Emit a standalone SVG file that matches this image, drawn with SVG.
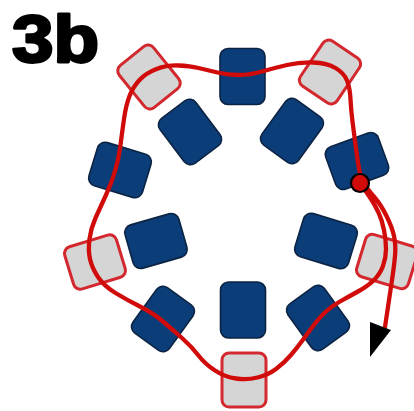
<svg xmlns="http://www.w3.org/2000/svg" width="414" height="411" viewBox="0 0 414 411">
<defs>
<style>
.navy{fill:#0b3d78;stroke:#0c2444;stroke-width:1.6}
.grey{fill:#d5d5d5;stroke:#d3282e;stroke-width:3}
.wire{fill:none;stroke:#d10a0a;stroke-width:4.3;stroke-linecap:round;stroke-linejoin:round}
.title{font-family:"Liberation Sans",Arial,sans-serif;font-weight:bold;font-size:66px;fill:#000;stroke:#000;stroke-width:2.8;stroke-linejoin:round}
</style>
<rect id="nb" x="-22.5" y="-28" width="45" height="56" rx="8" ry="8"/>
<rect id="gb" x="-22" y="-27" width="44" height="54" rx="7" ry="7"/>
</defs>
<rect width="414" height="411" fill="#ffffff"/>
<text class="title" x="12" y="62" textLength="87" lengthAdjust="spacingAndGlyphs">3b</text>
<g id="beads">
<g id="navy1"><use href="#nb" class="navy" transform="translate(242.5,76.5)"/></g>
<g id="navy2"><use href="#nb" class="navy" transform="translate(357,161) rotate(70)"/></g>
<g id="navy3"><use href="#nb" class="navy" transform="translate(318,318) rotate(-36)"/></g>
<g id="navy4"><use href="#nb" class="navy" transform="translate(163,319) rotate(36)"/></g>
<g id="navy5"><use href="#nb" class="navy" transform="translate(120,170) rotate(-73)"/></g>
<g id="navy6"><use href="#nb" class="navy" transform="translate(190,132) rotate(-37)"/></g>
<g id="navy7"><use href="#nb" class="navy" transform="translate(292,131) rotate(36)"/></g>
<g id="navy8"><use href="#nb" class="navy" transform="translate(326,241) rotate(-73)"/></g>
<g id="navy9"><use href="#nb" class="navy" transform="translate(243,310)"/></g>
<g id="navy10"><use href="#nb" class="navy" transform="translate(156,241) rotate(74)"/></g>
<g id="grey1"><use href="#gb" class="grey" transform="translate(149,77) rotate(-39)"/></g>
<g id="grey2"><use href="#gb" class="grey" transform="translate(330,72) rotate(34)"/></g>
<g id="grey3"><use href="#gb" class="grey" transform="translate(387,261.5) rotate(-73)"/></g>
<g id="grey4"><use href="#gb" class="grey" transform="translate(244,380)"/></g>
<g id="grey5"><use href="#gb" class="grey" transform="translate(95,262) rotate(73)"/></g>
</g>
<g id="connectors">
<path class="wire" d="M360,183 L363.5,188 Q367,193 371,199 Q375,205 378.5,212.5 Q382,220 384,230 Q386,240 386,249 Q386,258 383,266 Q380,274 374,280 Q368,286 358,291.5 Q348,297 340,301.5 Q332,306 326,311.5 Q320,317 315,323.5 Q310,330 303.5,339 Q297,348 290.5,355.5 Q284,363 276,369 Q268,375 257.5,377.5 Q247,380 236,378.5 Q225,377 215,370.5 Q205,364 198.5,355.5 Q192,347 182.5,338.5 Q173,330 163,321.5 Q153,313 140,306.5 Q127,300 115.5,293 Q104,286 98,277 Q92,268 90,259 Q88,250 89.5,239 Q91,228 95.5,218 Q100,208 106,195 Q112,182 115.5,169.5 Q119,157 120.5,145 Q122,133 124,119 Q126,105 129.5,96 Q133,87 139.5,80 Q146,73 156.5,69 Q167,65 178.5,65.5 Q190,66 198.5,68 Q207,70 217.5,72.5 Q228,75 239,75 Q250,75 262,71.5 Q274,68 287,65 Q300,62 313.5,62.5 Q327,63 335.5,68 Q344,73 347,80.5 Q350,88 350.5,99 Q351,110 352.5,121.5 Q354,133 355.5,145 Q357,157 359,168.5 Q361,180 365.5,186 Q370,192 375.5,198.5 Q381,205 386.5,216 Q392,227 394,236 Q396,245 395,256 Q394,267 391.5,283.5 Q389,300 387,313.5 L385,327"/>
<polygon points="370,322 391,330 370,357" fill="#000"/>
<circle cx="360" cy="183" r="9" fill="#d10a0a" stroke="#000" stroke-width="2.2"/>
</g>
</svg>
